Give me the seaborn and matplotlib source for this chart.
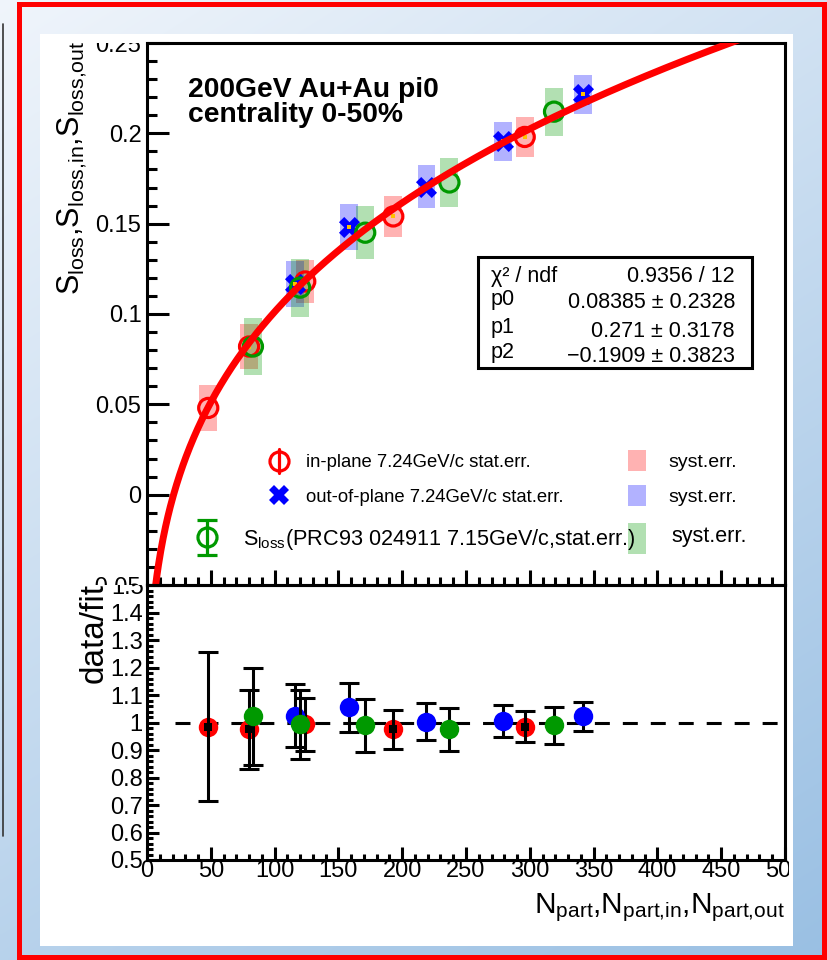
import numpy as np
import pandas as pd
import matplotlib
matplotlib.use("Agg")
import matplotlib.pyplot as plt
import seaborn as sns
from matplotlib.patches import Rectangle
from matplotlib.transforms import Bbox

# ---------------- data ----------------
fit_params = [0.08385, 0.271, -0.1909]          # p0, p1, p2 of the fit  p0*x^p1 + p2
stat_labels = ["χ² / ndf", "p0", "p1", "p2"]
stat_values = ["0.9356 / 12", "0.08385 ± 0.2328", "0.271 ± 0.3178", "−0.1909 ± 0.3823"]

in_npart = [48, 80, 124, 193, 296]
in_sloss = [0.048, 0.082, 0.118, 0.154, 0.198]
in_syst = [0.0127, 0.0125, 0.012, 0.0114, 0.011]
in_ratio = [0.985, 0.975, 0.993, 0.975, 0.985]
in_ratio_err = [0.27, 0.145, 0.097, 0.072, 0.057]

out_npart = [116, 158, 219, 279, 342]
out_sloss = [0.1165, 0.148, 0.1705, 0.1955, 0.2215]
out_syst = [0.0127, 0.0127, 0.0117, 0.011, 0.011]
out_ratio = [1.025, 1.055, 1.003, 1.006, 1.022]
out_ratio_err = [0.115, 0.09, 0.068, 0.057, 0.052]

prc_npart = [83, 120, 171, 237, 319]
prc_sloss = [0.082, 0.1146, 0.145, 0.1728, 0.212]
prc_syst = [0.016, 0.016, 0.0147, 0.0133, 0.0133]
prc_ratio = [1.022, 0.993, 0.99, 0.975, 0.99]
prc_ratio_err = [0.178, 0.125, 0.097, 0.077, 0.067]

x_ticks = [0, 50, 100, 150, 200, 250, 300, 350, 400, 450, 500]
x_ticklabels = ["0", "50", "100", "150", "200", "250", "300", "350", "400", "450", "500"]
top_yticks = [-0.05, 0.0, 0.05, 0.1, 0.15, 0.2, 0.25]
top_yticklabels = ["−0.05", "0", "0.05", "0.1", "0.15", "0.2", "0.25"]
bot_yticks = [0.5, 0.6, 0.7, 0.8, 0.9, 1.0, 1.1, 1.2, 1.3, 1.4, 1.5]
bot_yticklabels = ["0.5", "0.6", "0.7", "0.8", "0.9", "1", "1.1", "1.2", "1.3", "1.4", "1.5"]

title_lines = ["200GeV Au+Au pi0", "centrality 0-50%"]
leg_in = "in-plane 7.24GeV/c stat.err."
leg_out = "out-of-plane 7.24GeV/c stat.err."
leg_prc = r"S$_{\mathregular{loss}}$(PRC93 024911 7.15GeV/c,stat.err.)"
leg_syst = "syst.err."
ylabel_top = (r"S$_{\mathregular{loss}}$,S$_{\mathregular{loss{,}in}}$,"
              r"S$_{\mathregular{loss{,}out}}$")
ylabel_bot = "data/fit"
xlabel = (r"N$_{\mathregular{part}}$,N$_{\mathregular{part{,}in}}$,"
          r"N$_{\mathregular{part{,}out}}$")

RED, BLUE, GREEN = "#ff0000", "#0000ff", "#009900"

# ---------------- style ----------------
sns.set_theme(style="white")
plt.rcParams["font.family"] = ["Liberation Sans", "DejaVu Sans"]
plt.rcParams["mathtext.fontset"] = "custom"
plt.rcParams["mathtext.rm"] = "Liberation Sans"
plt.rcParams["mathtext.it"] = "Liberation Sans:italic"
plt.rcParams["mathtext.bf"] = "Liberation Sans:bold"
plt.rcParams["axes.unicode_minus"] = True
plt.rcParams["text.color"] = "black"

W, H = 828, 960
fig = plt.figure(figsize=(W / 100, H / 100), dpi=100)


def fx(x):
    return x / W


def fy(y):
    return 1 - y / H


# ---------------- background ----------------
bg = fig.add_axes([0, 0, 1, 1], zorder=-5)
yy, xx = np.mgrid[0:H:4, 0:W:4]
t = 0.65 * yy / H + 0.35 * xx / W
c0 = np.array([0.94, 0.96, 0.985])
c1 = np.array([0.60, 0.75, 0.89])
img = c0 * (1 - t[..., None]) + c1 * t[..., None]
bg.imshow(img, extent=(0, W, H, 0), aspect="auto", interpolation="bilinear")
bg.set_xlim(0, W)
bg.set_ylim(H, 0)
bg.axis("off")
bg.add_patch(Rectangle((40, 34), 793 - 40, 946 - 34, facecolor="white", edgecolor="none"))
bg.add_patch(Rectangle((19, 4), 824 - 19, 957 - 4, facecolor="none", edgecolor="red", linewidth=3.6))
bg.plot([3, 3], [24, 836], color="#333333", lw=1.2)

# ---------------- top panel ----------------
ax1 = fig.add_axes([fx(147), fy(585), (785 - 147) / W, (585 - 43) / H])
ax1.set_facecolor("none")
ax1.set_xlim(0, 500)
ax1.set_ylim(-0.05, 0.25)

for xs, ys, es, col in [(in_npart, in_sloss, in_syst, RED),
                        (out_npart, out_sloss, out_syst, BLUE),
                        (prc_npart, prc_sloss, prc_syst, GREEN)]:
    ys = np.asarray(ys)
    es = np.asarray(es)
    ax1.bar(xs, 2 * es, bottom=ys - es, width=14, color=col, alpha=0.3, linewidth=0, zorder=1)

sns.scatterplot(x=in_npart, y=in_sloss, ax=ax1, marker="o", s=190, facecolors="none",
                edgecolor=RED, linewidth=2.3, zorder=3)
sns.scatterplot(x=out_npart, y=out_sloss, ax=ax1, marker="X", s=230, color=BLUE,
                linewidth=0, zorder=3)
sns.scatterplot(x=prc_npart, y=prc_sloss, ax=ax1, marker="o", s=190, facecolors="none",
                edgecolor=GREEN, linewidth=2.3, zorder=3)
ax1.scatter(in_npart, in_sloss, marker="s", s=10, color="#ffc000", zorder=3.5, linewidths=0)
ax1.scatter(out_npart, out_sloss, marker="s", s=10, color="#ffc000", zorder=3.5, linewidths=0)

fit_x = np.linspace(6.5, 500, 800)
fit_y = fit_params[0] * fit_x ** fit_params[1] + fit_params[2]
sns.lineplot(x=fit_x, y=fit_y, ax=ax1, color=RED, linewidth=5, sort=False, estimator=None, zorder=4)

ax1.set_xticks(x_ticks)
ax1.set_xticks(np.arange(0, 501, 10), minor=True)
ax1.set_yticks(top_yticks)
ax1.set_yticks(np.arange(-0.05, 0.2501, 0.01), minor=True)
ax1.set_yticklabels(["" if (i == 0 or i == len(top_yticklabels) - 1) else s
                     for i, s in enumerate(top_yticklabels)])
ax1.tick_params(axis="both", which="both", direction="in", width=2.2, color="black",
                labelcolor="black", left=True, bottom=True)
ax1.tick_params(axis="x", which="major", length=10.8, labelbottom=False)
ax1.tick_params(axis="x", which="minor", length=5.8)
ax1.tick_params(axis="y", which="major", length=15.8, labelsize=17, pad=4)
ax1.tick_params(axis="y", which="minor", length=7.2)
for sp in ax1.spines.values():
    sp.set_linewidth(2.2)
    sp.set_color("black")
ax1.set_xlabel("")
ax1.set_ylabel("")

# ---------------- bottom panel ----------------
ax2 = fig.add_axes([fx(147), fy(860), (785 - 147) / W, (860 - 585) / H])
ax2.set_facecolor("none")
ax2.set_xlim(0, 500)
ax2.set_ylim(0.5, 1.5)
ax2.hlines(1.0, 22, 500, colors="black", linewidth=2.2, linestyles=(0, (4.9, 4.25)), zorder=1)

ekw = dict(fmt="none", ecolor="black", elinewidth=2.2, capsize=7, capthick=2.2)
sns.scatterplot(x=in_npart, y=in_ratio, ax=ax2, color=RED, s=196, linewidth=0, zorder=3)
ax2.errorbar(in_npart, in_ratio, yerr=in_ratio_err, zorder=3.1, **ekw)
ax2.scatter(in_npart, in_ratio, marker="s", s=26, color="black", zorder=3.15, linewidths=0)
ax2.errorbar(out_npart, out_ratio, yerr=out_ratio_err, zorder=3.2, **ekw)
sns.scatterplot(x=out_npart, y=out_ratio, ax=ax2, color=BLUE, s=196, linewidth=0, zorder=3.3)
ax2.errorbar(prc_npart, prc_ratio, yerr=prc_ratio_err, zorder=3.4, **ekw)
sns.scatterplot(x=prc_npart, y=prc_ratio, ax=ax2, color=GREEN, s=196, linewidth=0, zorder=3.5)

ax2.set_xticks(x_ticks)
ax2.set_xticklabels(x_ticklabels[:-1] + [""])
ax2.set_xticks(np.arange(0, 501, 10), minor=True)
ax2.set_yticks(bot_yticks)
ax2.set_yticklabels(bot_yticklabels[:-1] + [""])
ax2.set_yticks(np.arange(0.5, 1.5001, 0.02), minor=True)
ax2.tick_params(axis="both", which="both", direction="in", width=2.2, color="black",
                labelcolor="black", labelsize=17, left=True, bottom=True)
ax2.tick_params(axis="x", which="major", length=9.4, pad=0)
ax2.tick_params(axis="x", which="minor", length=4.3)
ax2.tick_params(axis="y", which="major", length=8.6, pad=3)
ax2.tick_params(axis="y", which="minor", length=4.3)
for sp in ax2.spines.values():
    sp.set_linewidth(2.2)
    sp.set_color("black")
ax2.set_xlabel("")
ax2.set_ylabel("")

# ---------------- overlay (pixel coordinates) ----------------
fg = fig.add_axes([0, 0, 1, 1], zorder=5)
fg.set_xlim(0, W)
fg.set_ylim(H, 0)
fg.axis("off")
fg.patch.set_visible(False)


def clipped(x, y, s, clip, **kw):
    tx = fg.text(x, y, s, clip_on=True, **kw)
    x0, y0, x1, y1 = clip
    tx.set_clip_box(Bbox.from_extents(x0, H - y1, x1, H - y0))
    return tx


# clipped tick labels
clipped(141.4, 43, top_yticklabels[-1], (0, 43, W, 585), ha="right", va="center_baseline", fontsize=17)
clipped(141.4, 585, top_yticklabels[0], (0, 34, W, 585), ha="right", va="center_baseline", fontsize=17)
clipped(144, 585, bot_yticklabels[-1], (0, 585, W, 960), ha="right", va="center_baseline", fontsize=17)
clipped(785, 860, x_ticklabels[-1], (0, 0, 789, H), ha="center", va="top", fontsize=17)

# axis titles
clipped(72, 40, ylabel_top, (0, 40, W, H), rotation=90, ha="center", va="top", fontsize=22)
fg.text(94, 583, ylabel_bot, rotation=90, ha="center", va="top", fontsize=24)
fg.text(785, 913, xlabel, ha="right", va="baseline", fontsize=21.5)

# title (two tightly spaced lines, as in the reference); baseline of the last line
fg.text(188, 122, title_lines[0] + "\n" + title_lines[1], fontsize=20.3, fontweight="bold",
        va="baseline", ha="left", linespacing=0.95)

# stats box
fg.add_patch(Rectangle((478, 257), 752 - 478, 368 - 257, facecolor="white", edgecolor="black",
                       linewidth=2.2, zorder=2))
for lab, val, yl, yv in zip(stat_labels, stat_values, [282, 305, 333, 358], [282, 308, 337, 362]):
    fg.text(491, yl, lab, fontsize=15.5, va="baseline", ha="left", zorder=3)
    fg.text(735, yv, val, fontsize=15.5, va="baseline", ha="right", zorder=3)

# legend
fg.plot([279, 279], [449, 473], color=RED, lw=2.3)
fg.plot([279], [461], marker="o", ms=13.7, mfc="none", mec=RED, mew=2.3)
fg.plot([279], [495], marker="X", ms=15, color=BLUE, mew=0)
fg.errorbar([207], [537], yerr=[[17], [18]], fmt="o", ms=13.7, mfc="none", mec=GREEN, mew=2.3,
            ecolor=GREEN, elinewidth=2.3, capsize=7, capthick=2.3)
fg.text(306, 467, leg_in, fontsize=13.3, va="baseline")
fg.text(306, 502, leg_out, fontsize=13.3, va="baseline")
fg.text(243, 545, leg_prc, fontsize=15.6, va="baseline")
for (y0, y1), col in zip([(450, 471), (485, 506), (523, 554)], [RED, BLUE, GREEN]):
    fg.add_patch(Rectangle((628, y0), 18, y1 - y0, facecolor=col, alpha=0.3, edgecolor="none"))
fg.text(668, 467, leg_syst, fontsize=14, va="baseline")
fg.text(668, 502, leg_syst, fontsize=14, va="baseline")
fg.text(671, 542, leg_syst, fontsize=15.5, va="baseline")

fig.savefig("out.png", dpi=100)
